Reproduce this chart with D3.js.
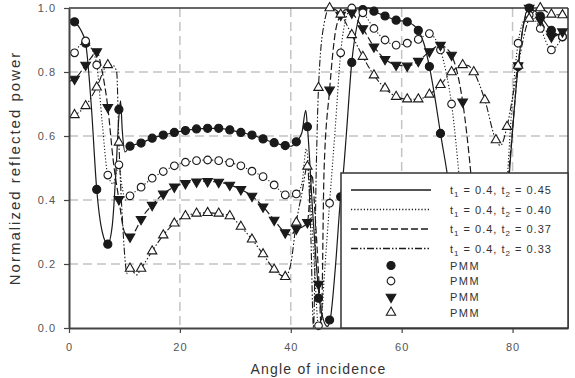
<!DOCTYPE html>
<html>
<head>
<script src="https://d3js.org/d3.v7.min.js"></script>
<style>
    body { margin: 0; background: white; }
    text { font-family: "Liberation Sans", Arial, sans-serif; }
</style>
</head>
<body>
<svg id="chart" width="575" height="378"></svg>
<script>
// angle of incidence vs normalized reflected power
const xTicks = [0, 20, 40, 60, 80];
const yTicks = [0, 0.2, 0.4, 0.6, 0.8, 1.0];
const t1 = "0.4";
const t2Values = ["0.45", "0.40", "0.37", "0.33"];
const markerLabels = ["PMM", "PMM", "PMM", "PMM"];

// theory curves
const line045 = [[0,0.965],[1,0.957],[2,0.935],[3,0.89],[4,0.7],[5,0.433],[6,0.3],[7,0.262],[7.8,0.32],[8.5,0.5],[9,0.66],[9.3,0.71],[9.6,0.62],[10.1,0.55],[11,0.568],[13,0.578],[15,0.593],[17,0.603],[19,0.611],[21,0.617],[23,0.622],[25,0.624],[27,0.624],[29,0.619],[31,0.611],[33,0.603],[35,0.591],[37,0.579],[39,0.57],[40,0.568],[41,0.582],[42,0.61],[42.7,0.68],[43,0.629],[44,0.35],[45.15,0.093],[46,0.02],[46.6,0.005],[47.1,0.025],[48,0.18],[49,0.41],[49.5,0.49],[50,0.6],[51,0.83],[52,0.95],[53,0.995],[54,1.0],[55,0.99],[57,0.975],[59,0.962],[61,0.957],[62,0.948],[63,0.93],[64,0.89],[65,0.817],[66,0.72],[67,0.608],[68.4,0.46],[70,0.22],[71.5,0.02],[72.5,0],[77,0],[78.5,0.25],[79.5,0.5],[81,0.817],[82,0.95],[83,1.0],[85,0.975],[87,0.93],[89,0.91]];
const line040 = [[0,0.85],[1,0.86],[2,0.885],[3,0.897],[4,0.875],[5,0.822],[6,0.64],[7,0.478],[8,0.45],[8.6,0.49],[9,0.51],[9.5,0.45],[10.2,0.4],[11,0.413],[13,0.44],[15,0.468],[17,0.489],[19,0.507],[21,0.518],[23,0.523],[25,0.525],[27,0.523],[29,0.517],[31,0.507],[33,0.49],[35,0.473],[37,0.447],[39,0.416],[40,0.41],[41,0.419],[42,0.45],[42.8,0.56],[43.5,0.42],[44.3,0.18],[45,0.007],[45.5,0.02],[46,0.15],[47,0.39],[48,0.62],[49,0.86],[50,0.97],[51,1.0],[53,0.985],[55,0.936],[57,0.9],[59,0.884],[61,0.89],[63,0.902],[65,0.92],[66,0.905],[67,0.869],[68,0.8],[69,0.70],[70.5,0.45],[72,0.15],[73,0],[77.5,0],[79,0.45],[80,0.72],[81,0.89],[82,0.96],[83,0.978],[85,0.936],[87,0.869],[89,0.91]];
const line037 = [[0,0.77],[1,0.778],[3,0.822],[4,0.845],[5,0.864],[6,0.8],[7,0.69],[8,0.52],[9,0.402],[10,0.3],[11,0.285],[12,0.305],[13,0.34],[15,0.384],[17,0.419],[19,0.441],[21,0.452],[23,0.457],[25,0.458],[27,0.456],[29,0.447],[31,0.433],[33,0.4125],[35,0.379],[37,0.3375],[39,0.298],[40,0.29],[41,0.31],[42,0.315],[43,0.33],[43.8,0.48],[44.4,0.35],[45.1,0.1375],[45.5,0.0],[46,0.49],[47,0.744],[48,0.92],[49,0.978],[50,0.995],[51,0.985],[53,0.936],[55,0.879],[57,0.84],[59,0.822],[61,0.819],[63,0.834],[65,0.864],[67,0.884],[68,0.875],[69,0.853],[70,0.8],[71,0.707],[72.6,0.46],[74,0.15],[75,0],[78,0],[79,0.4],[80,0.62],[81,0.82],[82,0.95],[83,1.0],[85,0.9625],[87,0.91],[89,0.926]];
const line033 = [[0,0.66],[1,0.666],[3,0.694],[5,0.752],[7,0.822],[8,0.82],[8.6,0.8],[9,0.58],[9.6,0.35],[10.5,0.17],[11,0.186],[12.2,0.166],[13,0.186],[15,0.24],[17,0.29],[19,0.327],[21,0.35],[23,0.358],[25,0.36],[27,0.358],[29,0.35],[31,0.317],[33,0.277],[35,0.231],[37,0.183],[39,0.16],[40,0.2],[41,0.33],[42,0.42],[43,0.505],[43.6,0.3],[44.1,0.0],[44.6,0.5],[45,0.751],[46,0.95],[47,1.0],[48,0.995],[49,0.98],[51,0.916],[53,0.848],[55,0.79],[57,0.749],[59,0.723],[61,0.715],[63,0.715],[65,0.73],[67,0.76],[69,0.80],[71,0.822],[72,0.82],[73,0.80],[75,0.7125],[77,0.5875],[77.8,0.57],[79,0.629],[80,0.72],[81,0.82],[83,0.967],[85,1.0],[87,0.98],[89,0.978]];

// PMM points
const pmm045 = [[1,0.957],[3,0.89],[5,0.433],[7,0.262],[9,0.683],[11,0.568],[13,0.578],[15,0.593],[17,0.603],[19,0.611],[21,0.617],[23,0.622],[25,0.624],[27,0.624],[29,0.619],[31,0.611],[33,0.603],[35,0.591],[37,0.579],[39,0.57],[41,0.582],[43,0.629],[45,0.093],[47,0.025],[49,0.41],[51,0.83],[53,0.995],[55,0.99],[57,0.975],[59,0.962],[61,0.957],[63,0.93],[65,0.817],[67,0.608],[81,0.817],[83,1.0],[85,0.975],[87,0.93],[89,0.91]];
const pmm040 = [[1,0.86],[3,0.897],[5,0.822],[7,0.478],[9,0.51],[11,0.413],[13,0.44],[15,0.468],[17,0.489],[19,0.507],[21,0.518],[23,0.523],[25,0.525],[27,0.523],[29,0.517],[31,0.507],[33,0.49],[35,0.473],[37,0.447],[39,0.416],[41,0.419],[45,0.007],[47,0.39],[49,0.86],[51,1.0],[53,0.985],[55,0.936],[57,0.9],[59,0.884],[61,0.89],[63,0.902],[65,0.92],[67,0.869],[69,0.70],[81,0.89],[83,0.978],[85,0.936],[87,0.869],[89,0.91]];
const pmm037 = [[1,0.778],[3,0.822],[5,0.864],[7,0.69],[9,0.402],[11,0.285],[13,0.34],[15,0.384],[17,0.419],[19,0.441],[21,0.452],[23,0.457],[25,0.458],[27,0.456],[29,0.447],[31,0.433],[33,0.4125],[35,0.379],[37,0.3375],[39,0.298],[41,0.31],[43,0.33],[45,0.1375],[47,0.744],[49,0.978],[51,0.985],[53,0.936],[55,0.879],[57,0.84],[59,0.822],[61,0.819],[63,0.834],[65,0.864],[67,0.884],[69,0.853],[71,0.707],[81,0.82],[83,1.0],[85,0.9625],[87,0.91],[89,0.926]];
const pmm033 = [[1,0.666],[3,0.694],[5,0.752],[7,0.822],[9,0.58],[11,0.186],[13,0.186],[15,0.24],[17,0.29],[19,0.327],[21,0.35],[23,0.358],[25,0.36],[27,0.358],[29,0.35],[31,0.317],[33,0.277],[35,0.231],[37,0.183],[39,0.16],[41,0.33],[43,0.505],[45,0.751],[47,1.0],[49,0.98],[51,0.916],[53,0.848],[55,0.79],[57,0.749],[59,0.723],[61,0.715],[63,0.715],[65,0.73],[67,0.76],[69,0.80],[71,0.822],[73,0.80],[75,0.7125],[77,0.5875],[79,0.629],[81,0.82],[83,0.967],[85,1.0],[87,0.98],[89,0.978]];

var margin = { top: 8, right: 7, bottom: 50, left: 69 },
    width = 575 - margin.left - margin.right,
    height = 378 - margin.top - margin.bottom;

var ink = "#1a1a1a";

var svg = d3.select("#chart");
var g = svg.append("g").attr("transform", "translate(" + margin.left + "," + margin.top + ")");

var xScale = d3.scaleLinear().domain([0, 90]).range([0, width]);
var yScale = d3.scaleLinear().domain([0, 1]).range([height, 0]);

// grid
g.append("g").selectAll("line").data(yTicks.filter(function (d) { return d > 0 && d < 1; }))
    .enter().append("line")
    .attr("x1", 0).attr("x2", width)
    .attr("y1", function (d) { return yScale(d); }).attr("y2", function (d) { return yScale(d); })
    .attr("stroke", "#c4c4c4").attr("stroke-width", 1.5).attr("stroke-dasharray", "9,5");
g.append("g").selectAll("line").data(xTicks.filter(function (d) { return d > 0; }))
    .enter().append("line")
    .attr("y1", 0).attr("y2", height)
    .attr("x1", function (d) { return xScale(d); }).attr("x2", function (d) { return xScale(d); })
    .attr("stroke", "#c4c4c4").attr("stroke-width", 1.5).attr("stroke-dasharray", "9,5");

// frame top/right
g.append("line").attr("x1", 0).attr("x2", width).attr("y1", 0).attr("y2", 0)
    .attr("stroke", "#333").attr("stroke-width", 1.5);
g.append("line").attr("x1", width).attr("x2", width).attr("y1", 0).attr("y2", height)
    .attr("stroke", "#333").attr("stroke-width", 1.5);

// curves
var lineGen = d3.line()
    .x(function (d) { return xScale(d[0]); })
    .y(function (d) { return yScale(d[1]); })
    .curve(d3.curveMonotoneX);

var curves = [
    { data: line045, dash: null, w: 1.2 },
    { data: line040, dash: "1.2,2", w: 1.1 },
    { data: line037, dash: "7,3", w: 1.2 },
    { data: line033, dash: "7,2,1.5,2,1.5,2", w: 1.1 }
];
curves.forEach(function (c) {
    g.append("path").datum(c.data)
        .attr("d", lineGen)
        .attr("fill", "none")
        .attr("stroke", ink)
        .attr("stroke-width", c.w)
        .attr("stroke-dasharray", c.dash);
});

// markers
var markerStyles = [
    { data: pmm045, type: d3.symbolCircle, size: 52, fill: ink, rot: 0 },
    { data: pmm040, type: d3.symbolCircle, size: 46, fill: "white", rot: 0 },
    { data: pmm037, type: d3.symbolTriangle, size: 40, fill: ink, rot: 180 },
    { data: pmm033, type: d3.symbolTriangle, size: 38, fill: "white", rot: 0 }
];
markerStyles.forEach(function (m) {
    g.append("g").selectAll("path").data(m.data).enter().append("path")
        .attr("d", d3.symbol().type(m.type).size(m.size))
        .attr("transform", function (d) {
            return "translate(" + xScale(d[0]) + "," + yScale(d[1]) + ") rotate(" + m.rot + ")";
        })
        .attr("fill", m.fill)
        .attr("stroke", ink)
        .attr("stroke-width", 1.1);
});

// axes
var yAxis = g.append("g")
    .call(d3.axisLeft(yScale).tickValues(yTicks).tickFormat(d3.format(".1f"))
        .tickSize(5).tickSizeOuter(0).tickPadding(8));
var xAxis = g.append("g").attr("transform", "translate(0," + height + ")")
    .call(d3.axisBottom(xScale).tickValues(xTicks).tickFormat(function (d) { return d; })
        .tickSize(5).tickSizeOuter(0).tickPadding(10));
[yAxis, xAxis].forEach(function (a) {
    a.select(".domain").attr("stroke", "#444").attr("stroke-width", 2);
    a.selectAll(".tick line").attr("stroke", "#444").attr("stroke-width", 1.2);
    a.selectAll(".tick text")
        .attr("fill", "#555")
        .style("font-size", "11px")
        .style("letter-spacing", "1px")
        .style("font-family", "Liberation Sans, Arial, sans-serif");
});

// axis titles
svg.append("text")
    .attr("transform", "translate(20," + (margin.top + height / 2) + ") rotate(-90)")
    .attr("text-anchor", "middle")
    .attr("fill", "#333")
    .style("font-size", "15px")
    .style("letter-spacing", "2px")
    .text("Normalized reflected power");
svg.append("text")
    .attr("x", margin.left + width / 2)
    .attr("y", 374)
    .attr("text-anchor", "middle")
    .attr("fill", "#333")
    .style("font-size", "14px")
    .style("letter-spacing", "1.2px")
    .text("Angle of incidence");

// legend
var legend = svg.append("g");
legend.append("rect")
    .attr("x", 341).attr("y", 173).attr("width", 227).attr("height", 155)
    .attr("fill", "white").attr("stroke", "#333").attr("stroke-width", 1.5);

var rowY = [190, 209.5, 229, 248.5];
curves.forEach(function (c, i) {
    legend.append("line")
        .attr("x1", 351).attr("x2", 431).attr("y1", rowY[i]).attr("y2", rowY[i])
        .attr("stroke", ink).attr("stroke-width", c.w + 0.3)
        .attr("stroke-dasharray", c.dash);
    var t = legend.append("text")
        .attr("x", 450).attr("y", rowY[i] + 4)
        .attr("fill", "#333")
        .style("font-size", "11px")
        .style("letter-spacing", "1px");
    t.append("tspan").text("t");
    t.append("tspan").attr("dy", 3).style("font-size", "8px").text("1");
    t.append("tspan").attr("dy", -3).text(" = " + t1 + ", t");
    t.append("tspan").attr("dy", 3).style("font-size", "8px").text("2");
    t.append("tspan").attr("dy", -3).text(" = " + t2Values[i]);
});

var markRowY = [265.5, 281, 297, 312.5];
markerStyles.forEach(function (m, i) {
    legend.append("path")
        .attr("d", d3.symbol().type(m.type).size(m.size))
        .attr("transform", "translate(391," + markRowY[i] + ") rotate(" + m.rot + ")")
        .attr("fill", m.fill).attr("stroke", ink).attr("stroke-width", 1.1);
    legend.append("text")
        .attr("x", 450).attr("y", markRowY[i] + 4)
        .attr("fill", "#333")
        .style("font-size", "11px")
        .style("letter-spacing", "1.5px")
        .text(markerLabels[i]);
});
</script>
</body>
</html>
